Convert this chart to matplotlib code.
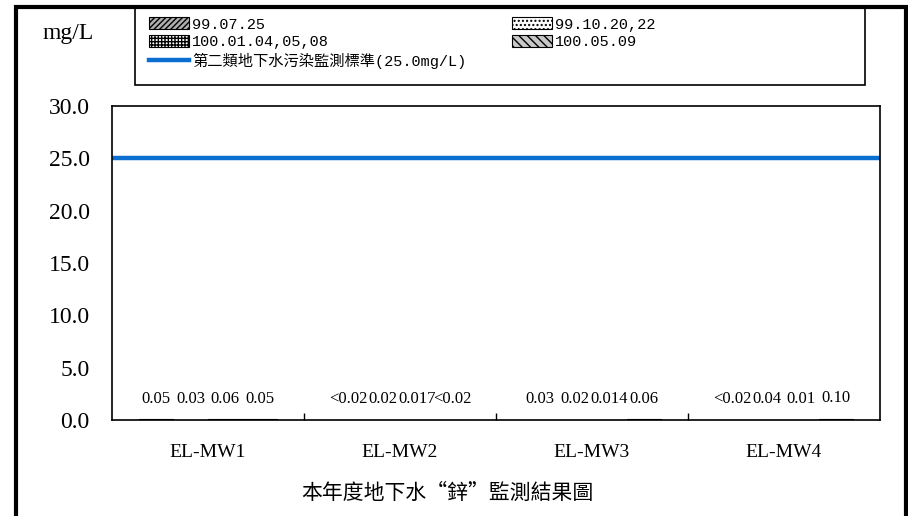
import numpy as np
import matplotlib.pyplot as plt
from matplotlib.patches import Rectangle
from matplotlib.lines import Line2D

# data
wells = ['EL-MW1', 'EL-MW2', 'EL-MW3', 'EL-MW4']
dates = ['99.07.25', '99.10.20,22', '100.01.04,05,08', '100.05.09']
values = [
    [0.05, 0.02, 0.03, 0.02],   # 99.07.25
    [0.03, 0.02, 0.02, 0.04],   # 99.10.20,22
    [0.06, 0.017, 0.014, 0.01], # 100.01.04,05,08
    [0.05, 0.02, 0.06, 0.10],   # 100.05.09
]
labels = [
    ['0.05', '<0.02', '0.03', '<0.02'],
    ['0.03', '0.02', '0.02', '0.04'],
    ['0.06', '0.017', '0.014', '0.01'],
    ['0.05', '<0.02', '0.06', '0.10'],
]
limit = 25.0
yticks = [0, 5, 10, 15, 20, 25, 30]

serif = ['Liberation Serif', 'DejaVu Serif']
cjk = ['Noto Sans CJK TC', 'DejaVu Sans']
mono = ['Liberation Mono', 'Noto Sans CJK TC']

W, H = 908, 516
fig = plt.figure(figsize=(W / 100, H / 100), dpi=100)
ax = fig.add_axes([112 / W, 1 - 420 / H, 768 / W, 314 / H])

styles = [
    dict(facecolor='#b0b0b0', hatch='//////'),
    dict(facecolor='white', hatch='....'),
    dict(facecolor='white', hatch='+++++'),
    dict(facecolor='#c8c8c8', hatch='\\\\\\\\'),
]

x = np.arange(len(wells))
bw = 0.18
bars = []
for i, (vals, st) in enumerate(zip(values, styles)):
    pos = x + (i - 1.5) * bw
    b = ax.bar(pos, vals, bw, edgecolor='black', linewidth=0.8, **st)
    bars.append(b)
    for p, v, t in zip(pos, vals, labels[i]):
        ax.annotate(t, (p, v), xytext=(0, 9), textcoords='offset points',
                    ha='center', va='bottom', fontsize=12, family=serif)

line = ax.axhline(limit, color='#0a6fd0', linewidth=3.2)

ax.set_xlim(-0.5, len(wells) - 0.5)
ax.set_ylim(0, 30)
ax.set_yticks(yticks)
ax.set_yticklabels([f'{v:.1f}' for v in yticks], family=serif, fontsize=17)
ax.tick_params(axis='y', length=0, pad=16)
ax.set_xticks(x)
ax.set_xticklabels(wells, family=serif, fontsize=14)
ax.set_xticks(np.arange(0.5, len(wells) - 1, 1), minor=True)
ax.tick_params(axis='x', which='major', length=0, pad=17)
ax.tick_params(axis='x', which='minor', direction='in', length=5, width=1)
for s in ax.spines.values():
    s.set_linewidth(1.2)

fig.text(68 / W, 1 - 33 / H, 'mg/L', family=serif, fontsize=17, ha='center', va='center')
fig.text(447 / W, 1 - 493 / H, '本年度地下水“鋅”監測結果圖', family=cjk, fontsize=15,
         ha='center', va='center')

# legend
line_handle = Line2D([], [], color='#0a6fd0', linewidth=3.2)
handles = [bars[0], bars[2], line_handle, bars[1], bars[3]]
texts = [dates[0], dates[2], '第二類地下水污染監測標準(25.0mg/L)', dates[1], dates[3]]
fig.legend(handles, texts, loc='upper left', bbox_to_anchor=(138 / W, 1 - 6 / H),
           ncol=2, frameon=False, prop={'family': mono, 'size': 11},
           handlelength=2.6, handleheight=0.8, handletextpad=0.2,
           columnspacing=3.0, labelspacing=0.22, borderpad=0.25)

fig.patches.append(Rectangle((135 / W, 1 - 85 / H), 730 / W, 78 / H, transform=fig.transFigure,
                             fill=False, edgecolor='black', linewidth=1.2))
fig.patches.append(Rectangle((16 / W, -0.05), 890 / W, 1.05 - 6.5 / H, transform=fig.transFigure,
                             fill=False, edgecolor='black', linewidth=3))

fig.savefig('out.png', dpi=100)
